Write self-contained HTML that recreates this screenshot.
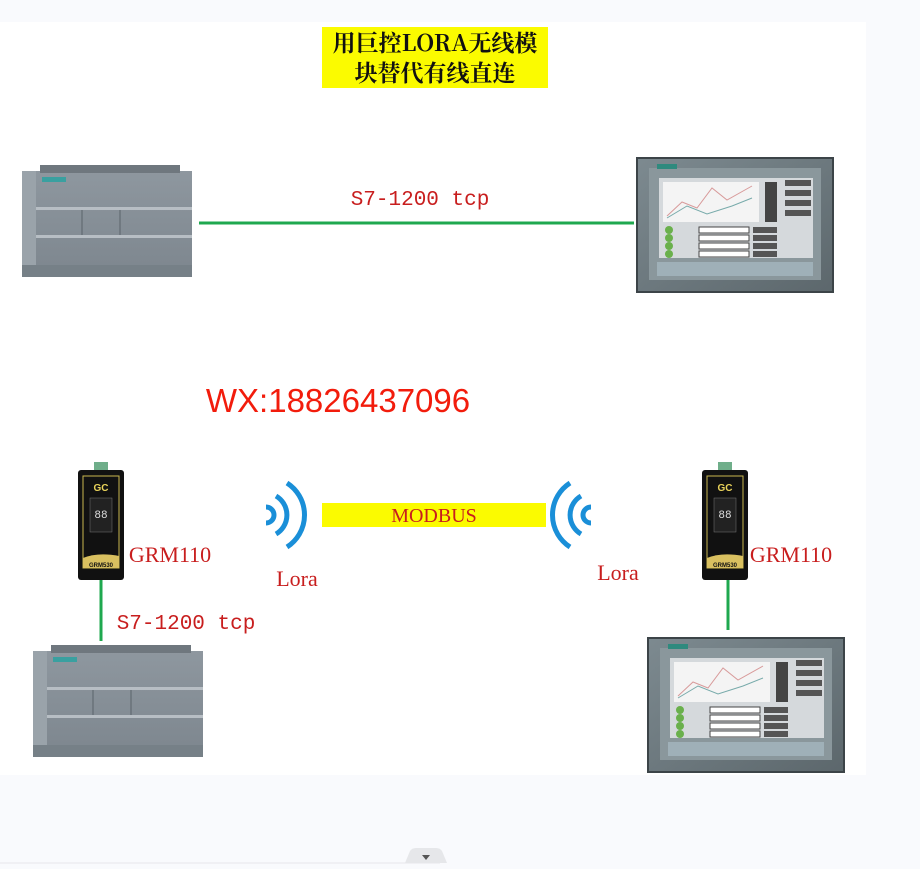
<!DOCTYPE html>
<html><head><meta charset="utf-8"><style>
html,body{margin:0;padding:0;background:#f9fafd;width:920px;height:869px;overflow:hidden}
svg{display:block}
</style></head><body>
<svg width="920" height="869" viewBox="0 0 920 869" xmlns="http://www.w3.org/2000/svg">
<defs>
<linearGradient id="pg" x1="0" y1="0" x2="0" y2="1"><stop offset="0" stop-color="#8e979f"/><stop offset="1" stop-color="#7d868e"/></linearGradient>
<linearGradient id="hg" x1="0" y1="0" x2="1" y2="1"><stop offset="0" stop-color="#7d8a90"/><stop offset="1" stop-color="#5c676c"/></linearGradient>
<g id="plc">
<rect x="0" y="6" width="170" height="106" fill="url(#pg)"/>
<rect x="18" y="0" width="140" height="8" fill="#6f777e"/>
<rect x="0" y="6" width="14" height="106" fill="#9aa3aa"/>
<rect x="20" y="12" width="24" height="5" fill="#3aa0a0"/>
<rect x="14" y="42" width="156" height="3" fill="#b7bec4"/>
<rect x="14" y="70" width="156" height="3" fill="#b7bec4"/>
<line x1="60" y1="45" x2="60" y2="70" stroke="#5a636a"/>
<line x1="98" y1="45" x2="98" y2="70" stroke="#5a636a"/>
<rect x="0" y="100" width="170" height="12" fill="#768087"/>
</g>
<g id="hmi">
<rect x="0" y="0" width="196" height="134" fill="url(#hg)" stroke="#3c4448" stroke-width="2"/>
<rect x="12" y="10" width="172" height="112" fill="#8a979c"/>
<rect x="20" y="6" width="20" height="5" fill="#2f8a7e"/>
<rect x="22" y="20" width="154" height="80" fill="#d5d9dc"/>
<rect x="26" y="24" width="96" height="40" fill="#f4f4f4"/>
<polyline points="30,58 45,44 60,50 75,30 90,42 115,28" fill="none" stroke="#d89a9a"/>
<polyline points="30,60 50,48 70,56 95,48 115,40" fill="none" stroke="#7aa"/>
<rect x="128" y="24" width="12" height="40" fill="#444"/>
<rect x="148" y="22" width="26" height="6" fill="#555"/><rect x="148" y="32" width="26" height="6" fill="#555"/><rect x="148" y="42" width="26" height="6" fill="#555"/><rect x="148" y="52" width="26" height="6" fill="#555"/>
<g fill="#6ab04c"><circle cx="32" cy="72" r="4"/><circle cx="32" cy="80" r="4"/><circle cx="32" cy="88" r="4"/><circle cx="32" cy="96" r="4"/></g>
<g fill="#fff" stroke="#444"><rect x="62" y="69" width="50" height="6"/><rect x="62" y="77" width="50" height="6"/><rect x="62" y="85" width="50" height="6"/><rect x="62" y="93" width="50" height="6"/></g>
<g fill="#555"><rect x="116" y="69" width="24" height="6"/><rect x="116" y="77" width="24" height="6"/><rect x="116" y="85" width="24" height="6"/><rect x="116" y="93" width="24" height="6"/></g>
<rect x="20" y="104" width="156" height="14" fill="#9fb0b8"/>
</g>
<g id="grm">
<rect x="16" y="-8" width="14" height="10" fill="#6fae8a"/>
<rect x="0" y="0" width="46" height="110" rx="3" fill="#111"/>
<rect x="5" y="6" width="36" height="92" fill="none" stroke="#c9b850"/>
<text x="23" y="21" text-anchor="middle" font-family="Liberation Sans" font-weight="bold" font-size="10" fill="#e8d25a">GC</text>
<rect x="12" y="28" width="22" height="34" fill="#222" stroke="#777" stroke-width="0.5"/>
<text x="23" y="48" text-anchor="middle" font-family="Liberation Mono" font-size="11" fill="#ddd">88</text>
<path d="M5 88 Q20 82 41 86 L41 98 L5 98 Z" fill="#d9c060"/>
<text x="23" y="97" text-anchor="middle" font-family="Liberation Sans" font-weight="bold" font-size="6" fill="#111">GRM530</text>
</g>
</defs>
<rect x="0" y="22" width="866" height="753" fill="#fff"/>
<rect x="322" y="27" width="226" height="61" fill="#fbfb00"/>
<text x="435" y="51" text-anchor="middle" font-family="'Noto Serif CJK SC','Liberation Serif',serif" font-weight="bold" font-size="23" fill="#111">用巨控LORA无线模</text>
<text x="435" y="81" text-anchor="middle" font-family="'Noto Serif CJK SC','Liberation Serif',serif" font-weight="bold" font-size="23" fill="#111">块替代有线直连</text>
<use href="#plc" transform="translate(22,165)"/>
<use href="#hmi" transform="translate(637,158)"/>
<line x1="199" y1="223" x2="634" y2="223" stroke="#1fa84f" stroke-width="3"/>
<text x="420" y="205" text-anchor="middle" font-family="'Liberation Mono',serif" font-size="21" fill="#c81e1e">S7-1200 tcp</text>
<text x="338" y="412" text-anchor="middle" font-family="'Liberation Sans',sans-serif" font-size="33" fill="#f21c0c">WX:18826437096</text>
<line x1="101" y1="578" x2="101" y2="641" stroke="#1fa84f" stroke-width="3"/>
<line x1="728" y1="578" x2="728" y2="630" stroke="#1fa84f" stroke-width="3"/>
<use href="#grm" transform="translate(78,470)"/>
<use href="#grm" transform="translate(702,470)"/>
<use href="#plc" transform="translate(33,645)"/>
<use href="#hmi" transform="translate(648,638)"/>
<text x="170" y="562" text-anchor="middle" font-family="'Liberation Serif',serif" font-size="22" fill="#c81e1e">GRM110</text>
<text x="791" y="562" text-anchor="middle" font-family="'Liberation Serif',serif" font-size="22" fill="#c81e1e">GRM110</text>
<text x="186" y="629" text-anchor="middle" font-family="'Liberation Mono',serif" font-size="21" fill="#c81e1e">S7-1200 tcp</text>
<text x="297" y="586" text-anchor="middle" font-family="'Liberation Serif',serif" font-size="22" fill="#c81e1e">Lora</text>
<text x="618" y="580" text-anchor="middle" font-family="'Liberation Serif',serif" font-size="22" fill="#c81e1e">Lora</text>
<rect x="322" y="503" width="224" height="24" fill="#fbfb00"/>
<text x="434" y="522" text-anchor="middle" font-family="'Liberation Serif',serif" font-size="20" fill="#c81e1e">MODBUS</text>
<g fill="none" stroke="#1a8fd8" stroke-width="5" stroke-linecap="butt">
<path d="M266 507 A8 8 0 0 1 266 523"/>
<path d="M276 496 A22 22 0 0 1 276 534"/>
<path d="M287 483 A38 38 0 0 1 287 547"/>
<path d="M591 507 A8 8 0 0 0 591 523"/>
<path d="M581 496 A22 22 0 0 0 581 534"/>
<path d="M570 483 A38 38 0 0 0 570 547"/>
</g>
<line x1="0" y1="863" x2="440" y2="863" stroke="#e6e7ea"/>
<path d="M405 863 L410 851 Q412 848 416 848 L436 848 Q440 848 442 851 L447 863 Z" fill="#e6e7ea"/>
<path d="M422 855 L430 855 L426 860 Z" fill="#555"/>
</svg>
</body></html>
